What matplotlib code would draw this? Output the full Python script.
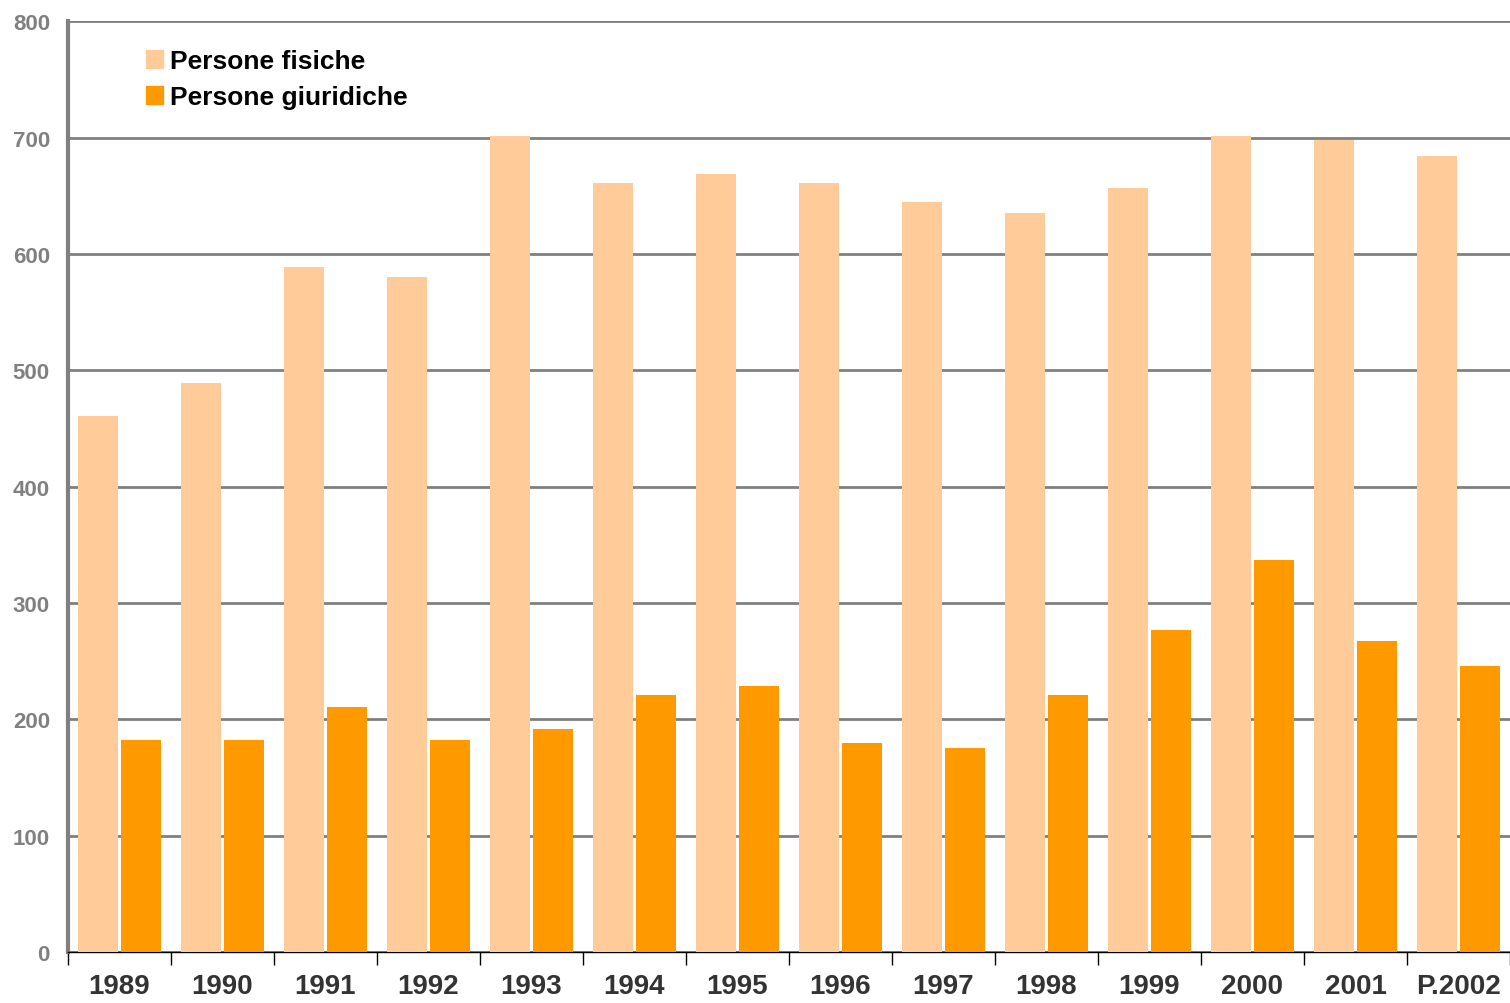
import numpy as np
from matplotlib import pyplot as plt
from matplotlib.patches import Patch

plt.rcParams['font.family'] = ['Liberation Sans', 'DejaVu Sans']

years = ['1989', '1990', '1991', '1992', '1993', '1994', '1995',
         '1996', '1997', '1998', '1999', '2000', '2001', 'P.2002']
fisiche = [461, 489, 589, 580, 701, 661, 669, 661, 645, 635, 657, 701, 698, 684]
giuridiche = [182, 182, 211, 182, 192, 221, 229, 180, 175, 221, 277, 337, 267, 246]

light = '#ffcc99'
dark = '#ff9900'

fig = plt.figure(figsize=(15.1, 10.04), dpi=100)
ax = fig.add_axes([0.045, 0.0508, 0.955, 0.927])

x = np.arange(len(years))
w = 0.388
ax.bar(x - 0.209, fisiche, w, color=light, zorder=3)
ax.bar(x + 0.209, giuridiche, w, color=dark, zorder=3)

ax.set_xlim(-0.5, len(years) - 0.5)
ax.set_ylim(0, 800)
ax.set_yticks(range(0, 801, 100))
ax.yaxis.grid(True, color='#808080', linewidth=2, zorder=0)
ax.set_axisbelow(True)

# spines
for s in ['top', 'right']:
    ax.spines[s].set_visible(False)
ax.spines['left'].set_color('#808080')
ax.spines['left'].set_linewidth(3)
ax.spines['bottom'].set_color('black')
ax.spines['bottom'].set_linewidth(1)

# x ticks: labels at centers, tick marks at boundaries
ax.set_xticks(x)
ax.set_xticklabels(years, fontsize=20, fontweight='bold', color='#333333')
ax.tick_params(axis='x', which='major', length=0, pad=15)
ax.set_xticks(np.arange(len(years) + 1) - 0.5, minor=True)
ax.tick_params(axis='x', which='minor', length=9, width=1, color='black')

ax.tick_params(axis='y', length=0, pad=13, labelsize=16, labelcolor='#808080')
for lab in ax.get_yticklabels():
    lab.set_fontweight('bold')

handles = [Patch(color=light, label='Persone fisiche'),
           Patch(color=dark, label='Persone giuridiche')]
ax.legend(handles=handles, loc='upper left', bbox_to_anchor=(0.041, 0.99),
          frameon=False, prop={'size': 19, 'weight': 'bold'},
          handlelength=0.68, handleheight=0.68, handletextpad=0.25,
          labelspacing=0.45, borderaxespad=0.3)

fig.savefig('out.png', dpi=100)
